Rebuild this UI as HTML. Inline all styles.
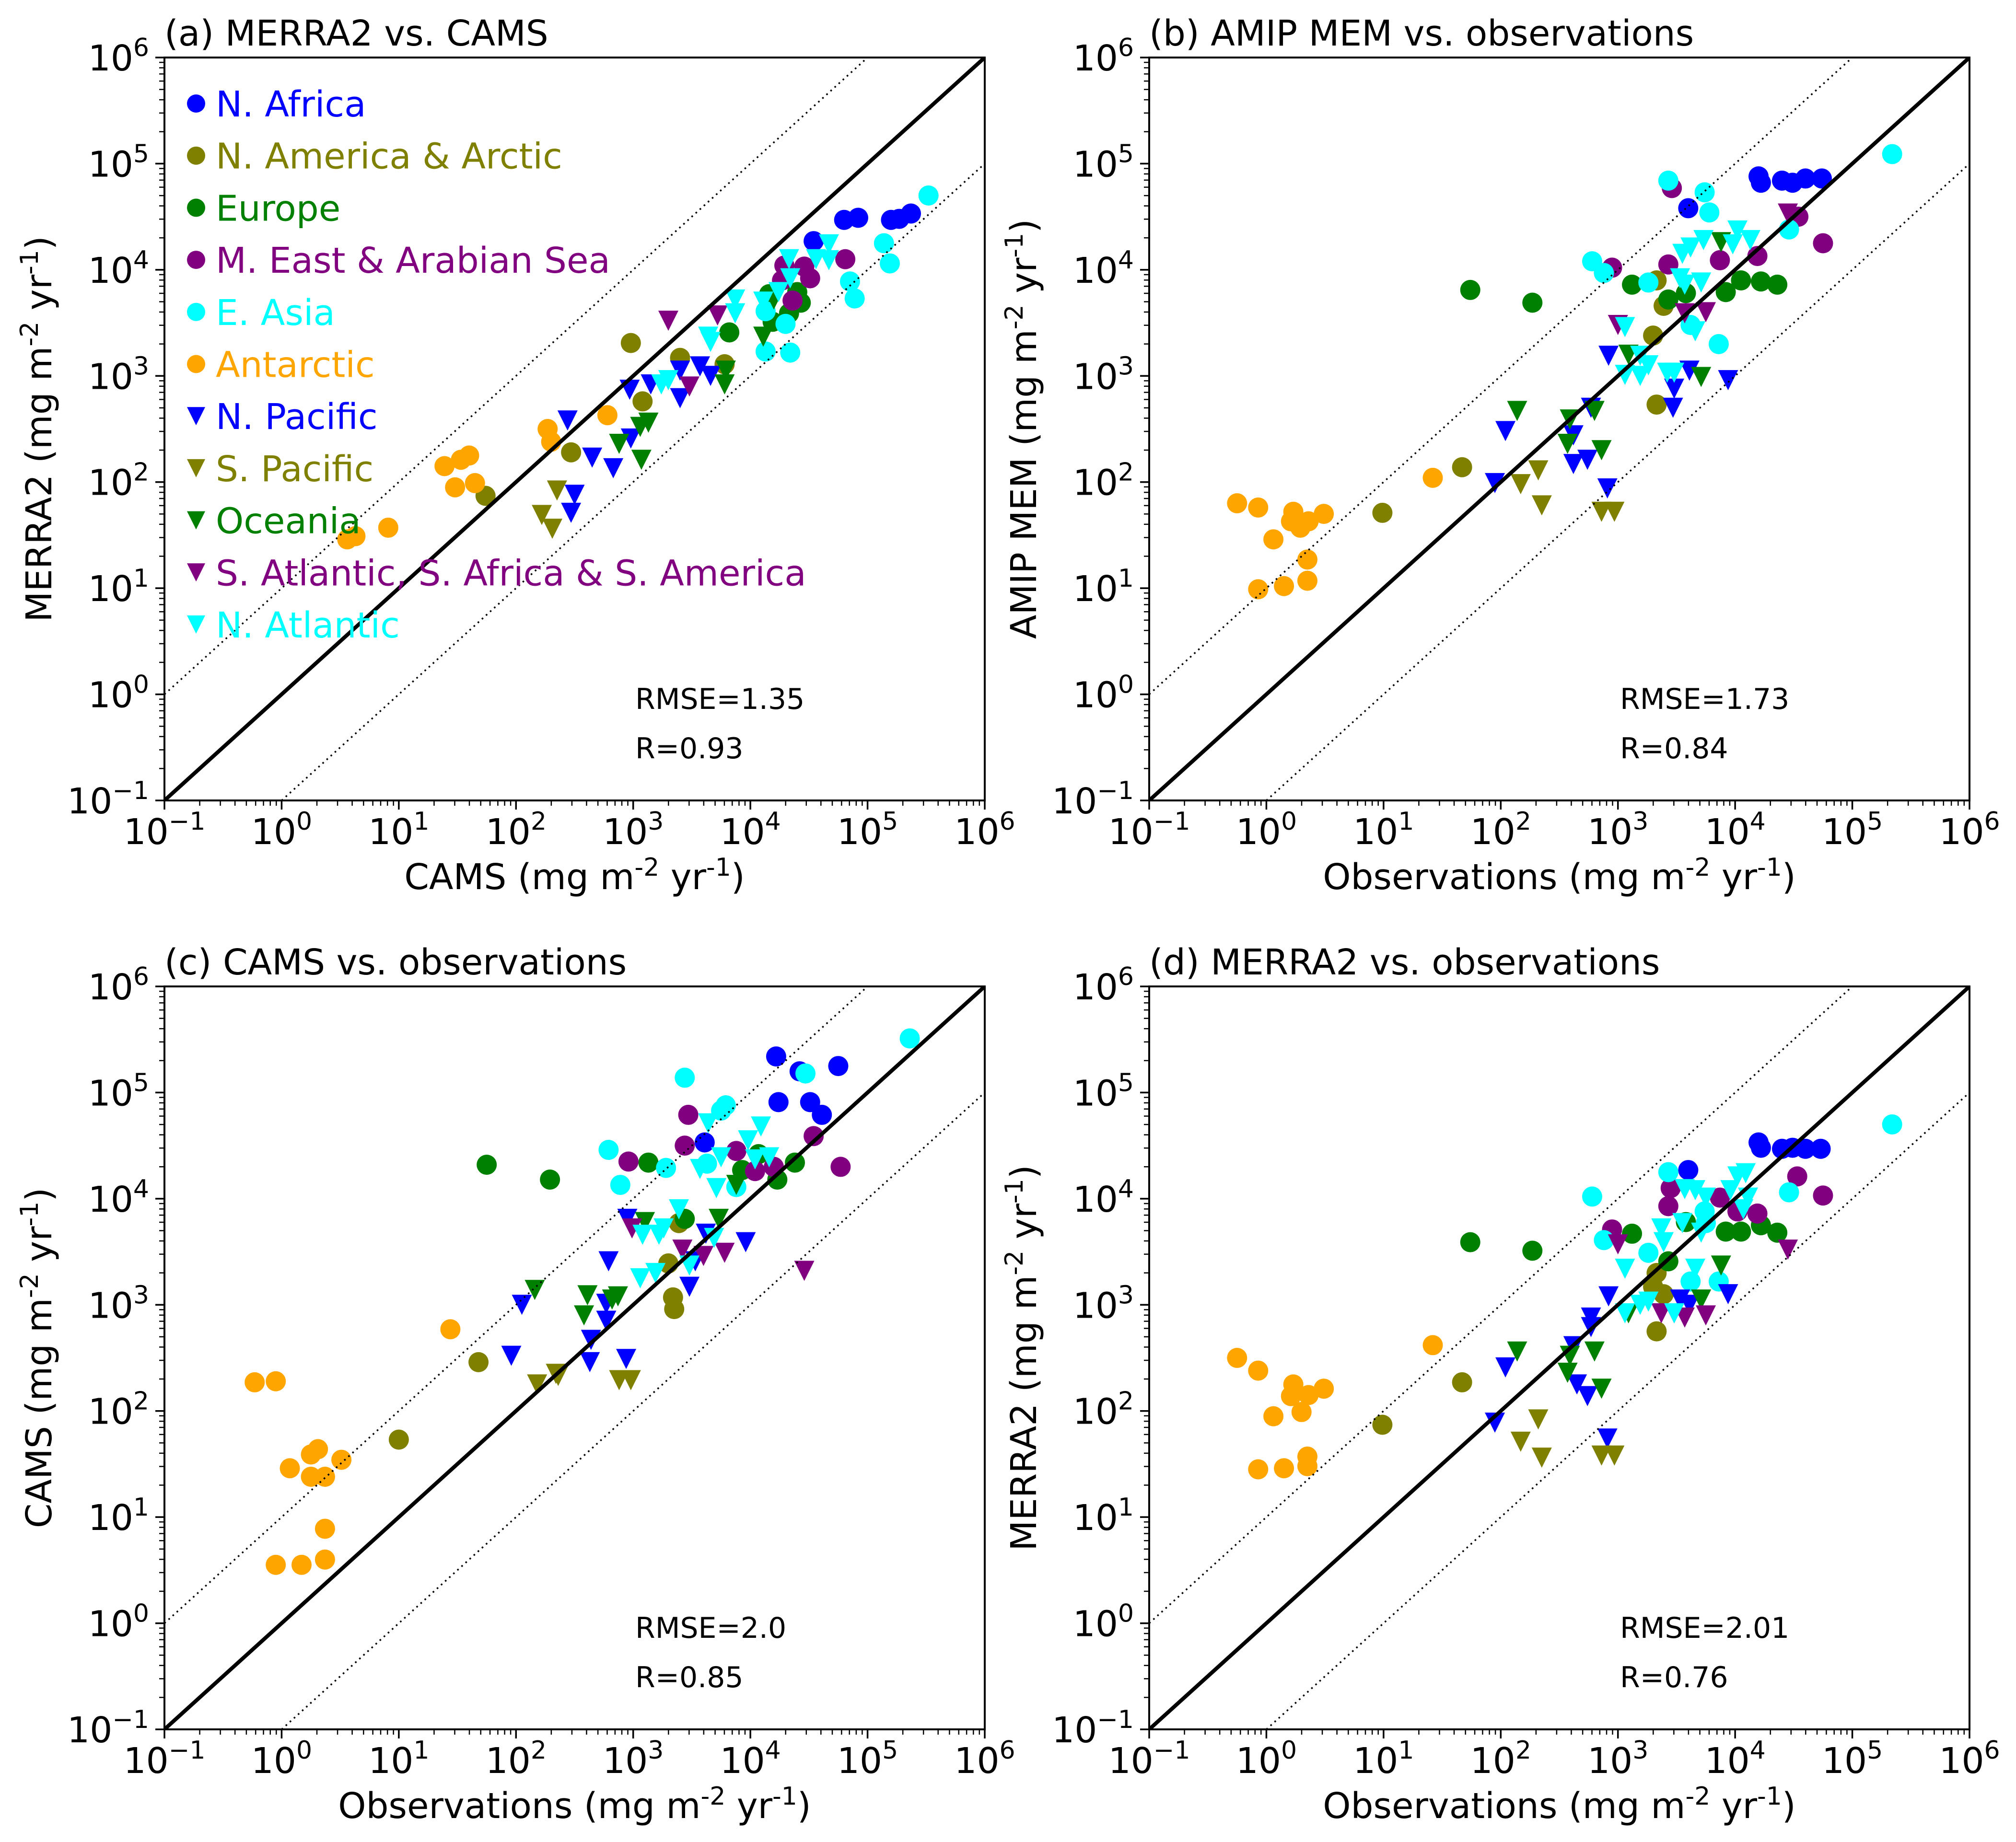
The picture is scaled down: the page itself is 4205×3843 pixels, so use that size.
<!DOCTYPE html>
<html><head><meta charset="utf-8"><style>
html,body{margin:0;padding:0;background:#fff;}
svg{display:block;font-family:"DejaVu Sans","Liberation Sans",sans-serif;}
</style></head><body>
<svg id="fig" xmlns="http://www.w3.org/2000/svg" width="4205" height="3843" viewBox="0 0 4205 3843"></svg>
<script>
// ---- Data (log10 of flux values, mg m-2 yr-1) ----
// Panel a: x=CAMS, y=MERRA2
const aNAfrica=[[4.54,4.27],[4.80,4.47],[4.92,4.49],[5.20,4.47],[5.27,4.48],[5.37,4.53]];
const aNAmerica=[[2.98,3.31],[3.40,3.17],[3.78,3.11],[3.08,2.76],[2.47,2.28],[1.74,1.87]];
const aEurope=[[3.82,3.41],[4.19,3.51],[4.33,3.59],[4.43,3.69],[4.40,3.79],[4.16,3.77]];
const aMEast=[[4.81,4.10],[4.46,4.03],[4.51,3.92],[4.36,3.71],[4.29,4.04],[4.27,3.90]];
const aEAsia=[[5.52,4.70],[5.14,4.25],[5.19,4.06],[4.85,3.89],[4.89,3.73],[4.34,3.22],[4.13,3.23],[4.30,3.49],[4.13,3.61]];
const aAntarctic=[[0.56,1.46],[0.63,1.49],[0.91,1.57],[1.48,1.95],[1.65,1.99],[1.39,2.15],[1.53,2.21],[1.60,2.25],[2.78,2.63],[2.27,2.50],[2.30,2.38]];
const aNPacific=[[2.44,2.58],[2.97,2.87],[3.15,2.92],[3.40,3.05],[3.57,3.09],[3.66,3.00],[3.40,2.79],[2.98,2.41],[2.65,2.23],[2.83,2.13],[2.50,1.88],[2.47,1.71]];
const aSPacific=[[2.35,1.92],[2.22,1.69],[2.31,1.56]];
const aOceania=[[3.79,3.05],[3.78,2.92],[4.11,3.37],[3.06,2.52],[3.13,2.56],[2.88,2.36],[3.07,2.21],[4.20,3.72]];
const aSAtlantic=[[3.30,3.52],[3.72,3.57],[3.48,2.90]];
const aNAtlantic=[[4.67,4.24],[4.33,4.10],[4.56,4.10],[4.67,4.09],[4.34,3.92],[4.24,3.79],[3.87,3.72],[3.87,3.59],[4.11,3.70],[3.64,3.37],[3.66,3.32],[3.30,2.96],[3.24,2.92]];
// Panel b: x=Observations, y=AMIP MEM
const bNAfrica=[[4.20,4.88],[4.22,4.82],[4.40,4.84],[4.49,4.82],[4.60,4.86],[4.74,4.86],[3.60,4.58]];
const bNAmerica=[[0.99,1.71],[1.67,2.14],[3.33,3.90],[3.39,3.66],[3.30,3.38],[3.33,2.73]];
const bEurope=[[1.74,3.81],[2.27,3.69],[3.12,3.86],[3.43,3.72],[3.58,3.78],[3.92,3.79],[4.05,3.90],[4.22,3.89],[4.36,3.86]];
const bMEast=[[3.46,4.77],[2.95,4.02],[3.43,4.05],[3.87,4.09],[4.19,4.13],[4.54,4.50],[4.75,4.25]];
const bEAsia=[[5.34,5.09],[3.43,4.84],[3.74,4.73],[3.78,4.54],[2.78,4.08],[2.88,3.97],[3.26,3.88],[3.62,3.48],[3.86,3.30],[4.46,4.38]];
const bAntarctic=[[-0.25,1.80],[-0.07,1.76],[0.23,1.72],[0.49,1.70],[0.21,1.63],[0.36,1.63],[0.29,1.57],[0.06,1.46],[0.35,1.27],[0.35,1.07],[0.15,1.02],[-0.07,0.99],[1.42,2.04]];
const bNPacific=[[1.95,1.99],[2.04,2.48],[2.62,2.44],[2.62,2.17],[2.74,2.21],[2.77,2.70],[2.92,3.19],[3.48,2.88],[3.47,2.70],[3.61,3.05],[3.94,2.96],[2.91,1.94]];
const bSPacific=[[2.32,2.11],[2.17,1.98],[2.35,1.78],[2.86,1.72],[2.97,1.72]];
const bOceania=[[2.14,2.67],[2.59,2.59],[2.80,2.67],[2.57,2.36],[2.86,2.30],[3.09,3.20],[3.71,2.99],[3.88,4.26]];
const bSAtlantic=[[3.00,3.48],[3.57,3.59],[3.75,3.60],[4.45,4.53]];
const bNAtlantic=[[4.02,4.37],[4.13,4.28],[3.98,4.24],[3.73,4.28],[3.62,4.21],[3.55,4.15],[3.53,3.92],[3.71,3.88],[3.57,3.86],[3.66,3.42],[3.06,3.46],[3.19,3.19],[3.26,3.10],[3.06,3.01],[3.19,3.00],[3.42,3.03],[3.48,3.03]];
// Panel c: x=Observations, y=CAMS
const cNAfrica=[[4.22,5.34],[4.42,5.20],[4.75,5.25],[4.24,4.91],[4.51,4.91],[4.61,4.79],[3.61,4.53]];
const cNAmerica=[[1.00,1.73],[1.68,2.46],[3.30,3.39],[3.39,3.77],[3.34,3.07],[3.35,2.96]];
const cEurope=[[1.75,4.32],[2.29,4.18],[3.13,4.34],[3.44,3.81],[3.93,4.27],[4.07,4.42],[4.23,4.18],[4.38,4.34]];
const cMEast=[[3.47,4.79],[2.96,4.35],[3.44,4.50],[3.88,4.45],[4.20,4.30],[4.04,4.26],[4.54,4.59],[4.77,4.30]];
const cEAsia=[[5.36,5.51],[3.44,5.14],[3.79,4.88],[3.75,4.83],[2.79,4.46],[2.89,4.13],[3.28,4.29],[3.63,4.33],[4.47,5.18],[3.88,4.11]];
const cAntarctic=[[-0.23,2.27],[-0.05,2.28],[0.31,1.64],[0.25,1.59],[0.51,1.54],[0.07,1.46],[0.25,1.38],[0.37,1.38],[0.37,0.89],[0.37,0.60],[0.17,0.55],[-0.05,0.55],[1.44,2.77]];
const cNPacific=[[2.95,3.81],[2.79,3.41],[2.05,3.00],[1.96,2.52],[2.63,2.46],[2.64,2.67],[2.77,2.85],[2.77,3.01],[2.94,2.49],[3.48,3.17],[3.53,3.41],[3.62,3.67],[3.96,3.59]];
const cSPacific=[[2.18,2.25],[2.34,2.35],[2.36,2.33],[2.88,2.29],[2.98,2.29]];
const cOceania=[[2.16,3.14],[2.61,3.09],[2.82,3.05],[2.87,3.08],[2.58,2.90],[3.10,3.78],[3.73,3.81],[3.88,4.13]];
const cSAtlantic=[[2.99,3.72],[3.42,3.52],[3.60,3.46],[3.78,3.49],[4.46,3.32]];
const cNAtlantic=[[3.64,4.71],[4.09,4.68],[3.98,4.55],[3.75,4.39],[3.57,4.28],[3.71,4.10],[4.04,4.37],[4.16,4.39],[3.39,3.90],[3.26,3.72],[3.08,3.66],[3.22,3.66],[3.48,3.37],[3.06,3.25],[3.19,3.30],[3.69,3.63]];
// Panel d: x=Observations, y=MERRA2
const dNAfrica=[[4.20,4.53],[4.22,4.48],[4.40,4.47],[4.49,4.48],[4.60,4.47],[4.73,4.47],[3.60,4.27]];
const dNAmerica=[[0.99,1.87],[1.67,2.27],[3.33,3.30],[3.30,3.17],[3.39,3.10],[3.33,2.75]];
const dEurope=[[1.74,3.59],[2.27,3.51],[3.12,3.67],[3.43,3.41],[3.58,3.78],[3.92,3.69],[4.05,3.69],[4.22,3.75],[4.36,3.68]];
const dMEast=[[2.95,3.71],[3.45,4.10],[3.43,3.93],[3.87,4.01],[4.19,3.86],[4.02,3.88],[4.53,4.21],[4.75,4.03]];
const dEAsia=[[5.34,4.70],[3.43,4.25],[2.78,4.02],[2.88,3.61],[3.26,3.49],[3.74,3.88],[3.75,3.77],[3.62,3.22],[3.86,3.22],[4.46,4.06]];
const dAntarctic=[[-0.25,2.50],[-0.07,2.38],[0.23,2.25],[0.49,2.21],[0.21,2.14],[0.36,2.15],[0.30,1.99],[0.06,1.95],[0.35,1.57],[0.35,1.48],[0.15,1.46],[-0.07,1.45],[1.42,2.62]];
const dNPacific=[[1.95,1.89],[2.04,2.41],[2.62,2.61],[2.77,2.88],[2.77,2.79],[2.65,2.25],[2.74,2.14],[2.92,3.08],[3.48,2.92],[3.53,3.05],[3.61,3.00],[3.94,3.10],[2.91,1.74]];
const dSPacific=[[2.32,1.92],[2.17,1.71],[2.35,1.56],[2.86,1.58],[2.97,1.58]];
const dOceania=[[2.14,2.56],[2.59,2.52],[2.80,2.56],[2.57,2.36],[2.86,2.21],[3.09,2.92],[3.71,3.05],[3.88,3.37]];
const dSAtlantic=[[3.00,3.57],[3.37,2.92],[3.57,2.88],[3.75,2.90],[4.45,3.52]];
const dNAtlantic=[[4.02,4.21],[4.09,4.24],[3.57,4.09],[3.66,4.08],[3.75,4.01],[3.96,4.08],[4.11,4.01],[4.07,3.90],[3.55,3.77],[3.37,3.72],[3.39,3.59],[3.06,3.34],[3.66,3.34],[3.71,3.68],[3.19,3.00],[3.26,3.03],[3.06,2.92],[3.48,2.92]];

const regionNames=['N. Africa','N. America & Arctic','Europe','M. East & Arabian Sea','E. Asia','Antarctic','N. Pacific','S. Pacific','Oceania','S. Atlantic, S. Africa & S. America','N. Atlantic'];
const tickExponents=[-1,0,1,2,3,4,5,6];
const rmseLabels=['RMSE=1.35','RMSE=1.73','RMSE=2.0','RMSE=2.01'];
const rLabels=['R=0.93','R=0.84','R=0.85','R=0.76'];
const titles=['(a) MERRA2 vs. CAMS','(b) AMIP MEM vs. observations','(c) CAMS vs. observations','(d) MERRA2 vs. observations'];
const xTitles=['CAMS','Observations','Observations','Observations'];
const yTitles=['MERRA2','AMIP MEM','CAMS','MERRA2'];

// ---- styles ----
const regionColors=['#0000ff','#808000','#008000','#800080','#00ffff','#ffa500','#0000ff','#808000','#008000','#800080','#00ffff'];
const regionMarkers=['o','o','o','o','o','o','v','v','v','v','v'];
const panelSeries=[
 [aNAfrica,aNAmerica,aEurope,aMEast,aEAsia,aAntarctic,aNPacific,aSPacific,aOceania,aSAtlantic,aNAtlantic],
 [bNAfrica,bNAmerica,bEurope,bMEast,bEAsia,bAntarctic,bNPacific,bSPacific,bOceania,bSAtlantic,bNAtlantic],
 [cNAfrica,cNAmerica,cEurope,cMEast,cEAsia,cAntarctic,cNPacific,cSPacific,cOceania,cSAtlantic,cNAtlantic],
 [dNAfrica,dNAmerica,dEurope,dMEast,dEAsia,dAntarctic,dNPacific,dSPacific,dOceania,dSAtlantic,dNAtlantic]];
const boxes=[{x0:343,x1:2054,y0:120,y1:1670},{x0:2397,x1:4108,y0:120,y1:1670},{x0:343,x1:2054,y0:2058,y1:3608},{x0:2397,x1:4108,y0:2058,y1:3608}];
const panelKeys=['a','b','c','d'];
const NS='http://www.w3.org/2000/svg';
const svg=document.getElementById('fig');
function mk(tag,attrs,parent){const e=document.createElementNS(NS,tag);for(const k in attrs)e.setAttribute(k,attrs[k]);(parent||svg).appendChild(e);return e;}
const LMIN=-1,LMAX=6;
function sx(b,l){return b.x0+(l-LMIN)/(LMAX-LMIN)*(b.x1-b.x0);}
function sy(b,l){return b.y1-(l-LMIN)/(LMAX-LMIN)*(b.y1-b.y0);}
function supText(parent,base,sup,x,y,anchor,size,supSize,name){
  const t=mk('text',{x:x,y:y,'font-size':size,'text-anchor':anchor,fill:'#000'},parent);
  
  
  t.appendChild(document.createTextNode(base));
  const s=mk('tspan',{dy:-30,'font-size':supSize},t);s.textContent=sup;
  return t;
}
function unitsLabel(parent,label,x,y,rot,name){
  const attrs={x:x,y:y,'font-size':74,'text-anchor':'middle',fill:'#000'};
  if(rot)attrs.transform='rotate(-90 '+x+' '+y+')';
  const t=mk('text',attrs,parent);
  
  
  const parts=[[label+' (mg m',0,74],['-2',-28,52],[' yr',28,74],['-1',-28,52],[')',28,74]];
  parts.forEach(p=>{const s=mk('tspan',{dy:p[1],'font-size':p[2]},t);s.textContent=p[0];});
}
function marker(g,m,cx,cy,color,r){
  let e;
  if(m==='o'){e=mk('circle',{cx:cx,cy:cy,r:r,fill:color},g);}
  else{e=mk('polygon',{points:(cx-r)+','+(cy-r)+' '+(cx+r)+','+(cy-r)+' '+cx+','+(cy+r),fill:color},g);}
  return e;
}
panelKeys.forEach((key,pi)=>{
  const b=boxes[pi];
  const g=mk('g',{});
  
  
  const cp=mk('clipPath',{id:'clip'+key},g);
  mk('rect',{x:b.x0,y:b.y0,width:b.x1-b.x0,height:b.y1-b.y0},cp);
  const pg=mk('g',{'clip-path':'url(#clip'+key+')'},g);
  
  
  panelSeries[pi].forEach((series,ri)=>{
    series.forEach(pt=>{
      const e=marker(pg,regionMarkers[ri],sx(b,pt[0]),sy(b,pt[1]),regionColors[ri],21);
      
      
    });
  });
  const lg=mk('g',{'clip-path':'url(#clip'+key+')'},g);
  const l1=mk('line',{x1:sx(b,-1),y1:sy(b,-1),x2:sx(b,6),y2:sy(b,6),stroke:'#000','stroke-width':8},lg);
  
  
  const l2=mk('line',{x1:sx(b,-1),y1:sy(b,0),x2:sx(b,5),y2:sy(b,6),stroke:'#000','stroke-width':3.5,'stroke-dasharray':'3.5 8'},lg);
  
  
  const l3=mk('line',{x1:sx(b,0),y1:sy(b,-1),x2:sx(b,6),y2:sy(b,5),stroke:'#000','stroke-width':3.5,'stroke-dasharray':'3.5 8'},lg);
  
  
  const fr=mk('rect',{x:b.x0,y:b.y0,width:b.x1-b.x0,height:b.y1-b.y0,fill:'none',stroke:'#000','stroke-width':4},g);
  
  
  const tg=mk('g',{stroke:'#000'},g);
  
  
  tickExponents.forEach(ex=>{
    const X=sx(b,ex),Y=sy(b,ex);
    mk('line',{x1:X,y1:b.y1,x2:X,y2:b.y1+19,'stroke-width':3.5},tg);
    mk('line',{x1:b.x0,y1:Y,x2:b.x0-19,y2:Y,'stroke-width':3.5},tg);
    supText(g,'10',(ex<0?'\u2212':'')+Math.abs(ex),X,b.y1+91,'middle',74,52,'x-tick-label');
    supText(g,'10',(ex<0?'\u2212':'')+Math.abs(ex),b.x0-32,Y+27,'end',74,52,'y-tick-label');
    if(ex<6){for(let k=2;k<10;k++){const lk=ex+Math.log10(k);
      mk('line',{x1:sx(b,lk),y1:b.y1,x2:sx(b,lk),y2:b.y1+11,'stroke-width':2.5},tg);
      mk('line',{x1:b.x0,y1:sy(b,lk),x2:b.x0-11,y2:sy(b,lk),'stroke-width':2.5},tg);}}
  });
  const t=mk('text',{x:b.x0,y:b.y0-25,'font-size':74,fill:'#000'},g);
  t.textContent=titles[pi];
  
  
  unitsLabel(g,xTitles[pi],(b.x0+b.x1)/2,b.y1+185,false,'x-axis-title');
  unitsLabel(g,yTitles[pi],b.x0-236,(b.y0+b.y1)/2,true,'y-axis-title');
  const r1=mk('text',{x:b.x0+982,y:b.y0+1359,'font-size':60,fill:'#000'},g);
  r1.textContent=rmseLabels[pi];
  
  
  const r2=mk('text',{x:b.x0+982,y:b.y0+1462,'font-size':60,fill:'#000'},g);
  r2.textContent=rLabels[pi];
  
  
});
const lgd=mk('g',{});


regionNames.forEach((nm,i)=>{
  const cy=216+i*108.7;
  const ent=mk('g',{},lgd);
  
  
  marker(ent,regionMarkers[i],409,cy,regionColors[i],19);
  const tx=mk('text',{x:450,y:cy+27,'font-size':74,fill:regionColors[i]},ent);
  tx.textContent=nm;
});
</script>
</body></html>
